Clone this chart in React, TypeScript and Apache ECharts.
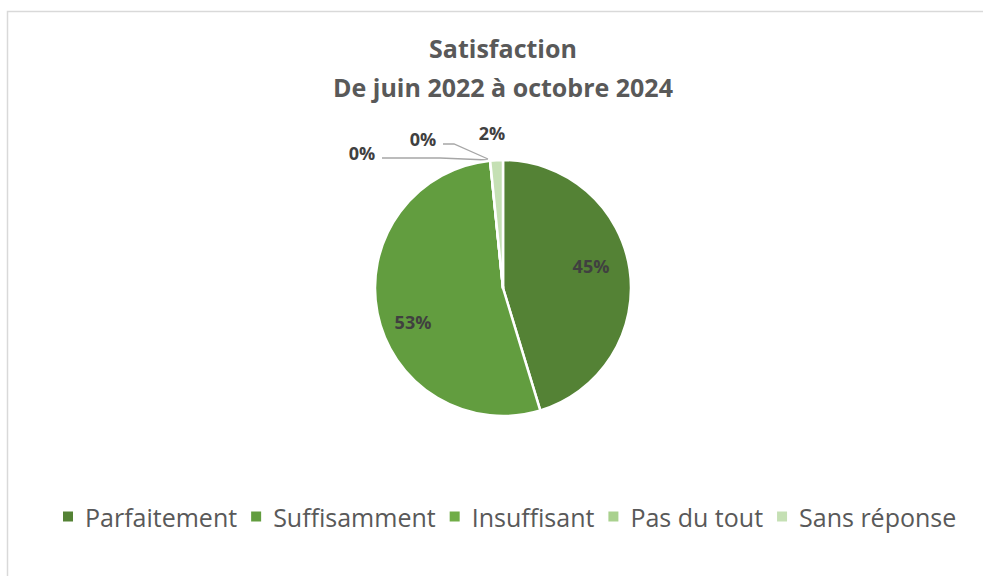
import React, { useEffect, useRef } from "react";
import * as echarts from "echarts";

const categories = ["Parfaitement", "Suffisamment", "Insuffisant", "Pas du tout", "Sans réponse"];
const values = [45.3, 53.1, 0, 0, 1.6];
const colors = ["#548235", "#629D3F", "#70AD47", "#A9D18E", "#C5E0B4"];
const titleText = "Satisfaction\nDe juin 2022 à octobre 2024";

// label placement (layout, not data)
const labelSpots: Record<number, { x: number; y: number; line?: number[][] }> = {
  0: { x: 591, y: 266 },
  1: { x: 413, y: 322 },
  2: { x: 362, y: 153, line: [[382, 158], [440, 158], [488, 160]] },
  3: { x: 423, y: 139, line: [[443, 144], [454, 144], [488, 159]] },
  4: { x: 492, y: 133 },
};

export default function App() {
  const ref = useRef<HTMLDivElement>(null);
  useEffect(() => {
    if (!ref.current) return;
    const chart = echarts.init(ref.current, undefined, { renderer: "svg" });
    const font = "'Open Sans', 'Noto Sans', sans-serif";
    chart.setOption({
      animation: false,
      textStyle: { fontFamily: font },
      title: {
        text: titleText,
        left: 498,
        textAlign: "center",
        top: 23,
        textStyle: {
          fontFamily: font,
          fontSize: 25,
          fontWeight: "bold",
          color: "#595959",
          lineHeight: 39,
        },
      },
      graphic: [
        {
          type: "rect",
          shape: { x: 7.5, y: 11.5, width: 1000, height: 600 },
          style: { fill: "none", stroke: "#d9d9d9", lineWidth: 1.5 },
          silent: true,
        },
      ],
      legend: {
        bottom: 42,
        left: 58,
        icon: "rect",
        itemWidth: 10,
        itemHeight: 10,
        itemGap: 14,
        data: categories,
        itemStyle: { borderWidth: 0 },
        textStyle: {
          fontFamily: font,
          fontSize: 25,
          color: "#595959",
          padding: [0, 0, 0, 7],
        },
      },
      series: [
        {
          type: "pie",
          center: [503, 288],
          radius: 128,
          startAngle: 90,
          clockwise: true,
          avoidLabelOverlap: false,
          percentPrecision: 0,
          itemStyle: { borderColor: "#ffffff", borderWidth: 2.5 },
          label: {
            formatter: "{d}%",
            fontFamily: font,
            fontSize: 18,
            fontWeight: "bold",
            color: "#404040",
          },
          labelLine: { lineStyle: { color: "#a6a6a6", width: 1.3 }, length: 10, length2: 10 },
          labelLayout: (p: any) => {
            const s = labelSpots[p.dataIndex];
            const o: any = { x: s.x, y: s.y, align: "center", verticalAlign: "middle" };
            if (s.line) o.labelLinePoints = s.line;
            return o;
          },
          data: categories.map((name, i) => ({
            name,
            value: values[i],
            itemStyle: { color: colors[i] },
            label: { position: i < 2 ? "inside" : "outside" },
            labelLine: { show: i === 2 || i === 3 },
          })),
        },
      ],
    });
    return () => chart.dispose();
  }, []);
  return (
    <div
      ref={ref}
      style={{ position: "absolute", left: 0, top: 0, width: 983, height: 576 }}
    />
  );
}
